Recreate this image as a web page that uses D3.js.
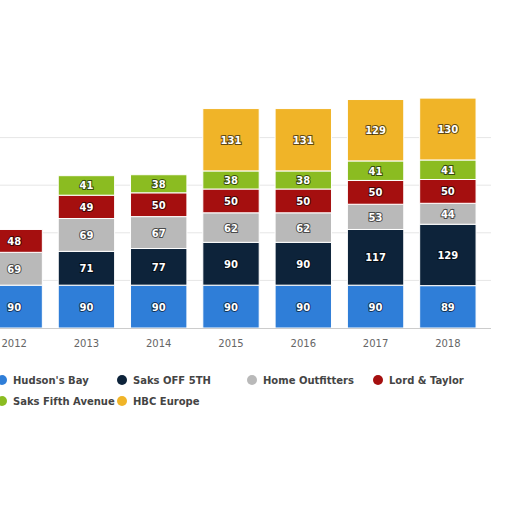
<!DOCTYPE html><html><head><meta charset="utf-8">
<script src="https://cdn.jsdelivr.net/npm/d3@7"></script>
<style>body{margin:0;background:#fff}</style></head><body>
<svg id="c" width="512" height="512"></svg>
<script>
const years=["2012","2013","2014","2015","2016","2017","2018"];
const seriesNames=["Hudson's Bay","Saks OFF 5TH","Home Outfitters","Lord & Taylor","Saks Fifth Avenue","HBC Europe"];
const hudsonsBay=[90,90,90,90,90,90,89];
const saksOff5th=[0,71,77,90,90,117,129];
const homeOutfitters=[69,69,67,62,62,53,44];
const lordTaylor=[48,49,50,50,50,50,50];
const saksFifth=[0,41,38,38,38,41,41];
const hbcEurope=[0,0,0,131,131,129,130];
const colors=["#2f7ed8","#0d233a","#b9b9b9","#a50f0f","#8bbc21","#f0b428"];
const series=[hudsonsBay,saksOff5th,homeOutfitters,lordTaylor,saksFifth,hbcEurope];
const svg=d3.select("#c");
const x=d3.scaleBand().domain(years).range([-22,484]).paddingInner(0.22).paddingOuter(0.11);
const y=d3.scaleLinear().domain([0,500]).range([328,90]);
const g=svg.append("g");
[100,200,300,400].forEach(v=>g.append("line").attr("x1",0).attr("x2",491).attr("y1",y(v)).attr("y2",y(v)).attr("stroke","#e6e6e6"));
const rows=years.map((yr,i)=>{const r={year:yr};seriesNames.forEach((s,j)=>r[s]=series[j][i]);return r;});
const stack=d3.stack().keys(seriesNames)(rows);
stack.forEach((layer,j)=>{
 layer.forEach(d=>{
  const v=d[1]-d[0]; if(!v) return;
  const bx=x(d.data.year);
  g.append("rect").attr("x",bx).attr("y",y(d[1])).attr("width",x.bandwidth()).attr("height",y(d[0])-y(d[1])).attr("fill",colors[j]).attr("stroke","#fff").attr("stroke-width",1);
  g.append("text").attr("x",bx+x.bandwidth()/2).attr("y",(y(d[0])+y(d[1]))/2+4).attr("text-anchor","middle")
   .attr("font-family","DejaVu Sans").attr("font-size",10).attr("font-weight","bold").attr("fill","#fff")
   .attr("stroke","#000").attr("stroke-width",2).attr("paint-order","stroke").attr("stroke-opacity",0.6).text(v);
 });
});
g.append("line").attr("x1",0).attr("x2",491).attr("y1",328.5).attr("y2",328.5).attr("stroke","#ccc");
const ax=g.append("g").attr("transform","translate(0,328)").call(d3.axisBottom(x).tickSize(0).tickPadding(12));
ax.select(".domain").remove();
ax.selectAll("text").attr("font-family","DejaVu Sans").attr("font-size",10).attr("fill","#666");
const lx=[2,122,252,378,2,122], ly=[380,380,380,380,401,401];
seriesNames.forEach((s,j)=>{
 svg.append("circle").attr("cx",lx[j]).attr("cy",ly[j]).attr("r",5).attr("fill",colors[j]);
 svg.append("text").attr("x",lx[j]+11).attr("y",ly[j]+4).attr("font-family","DejaVu Sans").attr("font-size",10)
  .attr("font-weight","bold").attr("fill","#444").text(s);
});
</script></body></html>
